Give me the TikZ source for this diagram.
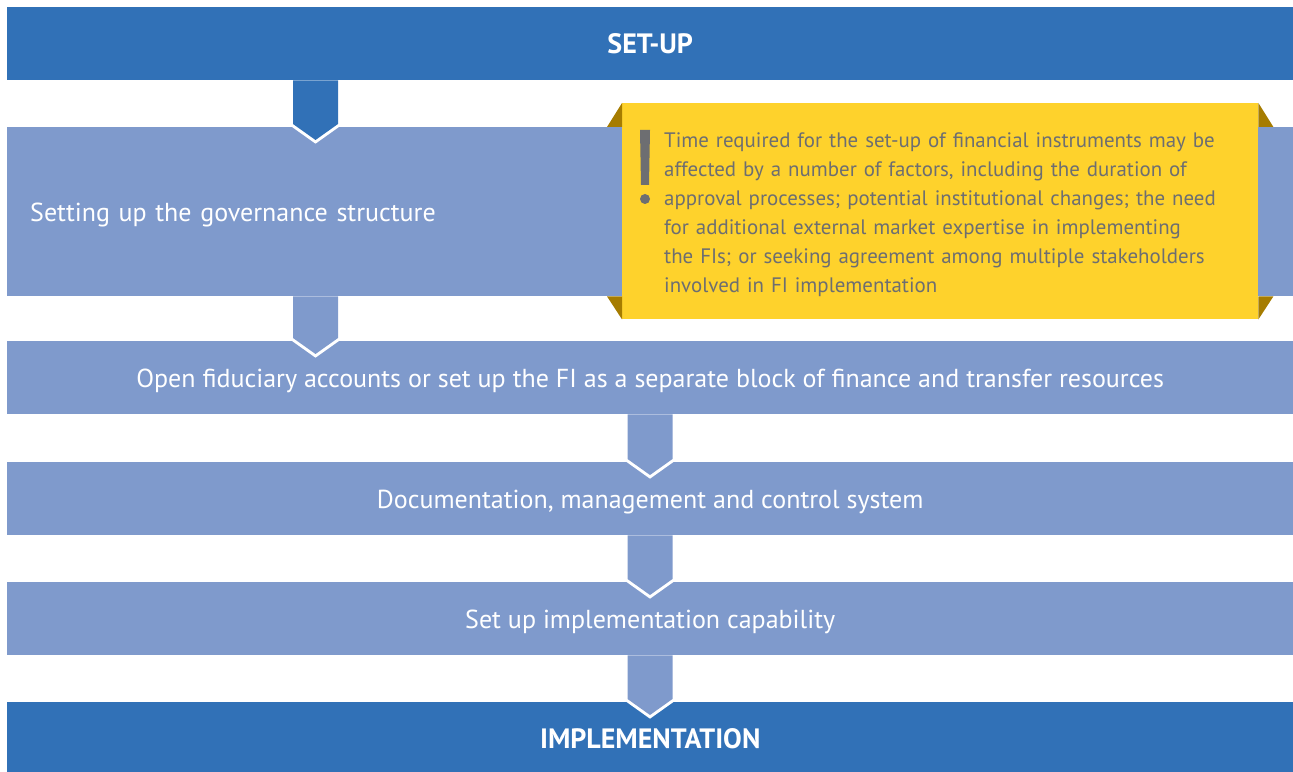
\documentclass[tikz,border=0pt]{standalone}
\usepackage{fontspec}
\setmainfont{PT Sans}
\usetikzlibrary{calc}

\definecolor{phaseblue}{RGB}{49,113,183}
\definecolor{stepblue}{RGB}{127,154,204}
\definecolor{noteyellow}{RGB}{254,210,44}
\definecolor{notegold}{RGB}{166,124,0}
\definecolor{notegray}{RGB}{109,110,113}

\tikzset{
  stage/.style={rectangle, fill=stepblue, text=white, inner sep=0pt, anchor=north west,
    minimum width=1286pt, minimum height=73pt, text height=19pt, text depth=0pt,
    font=\fontsize{26}{30}\selectfont},
  phase/.style={stage, fill=phaseblue, font=\bfseries\fontsize{28}{32}\selectfont},
}

\begin{document}
\begin{tikzpicture}[x=1pt,y=1pt]
\useasboundingbox (0,0) rectangle (1293,771);

% stages
\node[phase] (setup) at (7,764) {SET-UP};
\node[stage, minimum height=169pt, text width=1240pt, inner xsep=23pt, align=left] (gov) at (7,644) {Setting up the governance structure};
\node[stage] (open) at (7,430) {Open fiduciary accounts or set up the FI as a separate block of finance and transfer resources};
\node[stage] (doc) at (7,309) {Documentation, management and control system};
\node[stage] (cap) at (7,189) {Set up implementation capability};
\node[phase] (impl) at (7,69) {IMPLEMENTATION};

% arrows between the stages
\foreach \from/\to/\col/\ax in {setup/gov/phaseblue/315.5, gov/open/stepblue/315.5, open/doc/stepblue/650, doc/cap/stepblue/650, cap/impl/stepblue/650}{
  \coordinate (al) at (\ax-22.5,0);
  \coordinate (am) at (\ax,0);
  \coordinate (ar) at (\ax+22.5,0);
  \draw[white, line width=6pt, line join=miter] ($(al |- \to.north)+(0,3)$) -- ($(am |- \to.north)-(0,13)$) -- ($(ar |- \to.north)+(0,3)$);
  \fill[\col] (al |- \from.south) -- ($(al |- \to.north)+(0,3)$) -- ($(am |- \to.north)-(0,13)$) -- ($(ar |- \to.north)+(0,3)$) -- (ar |- \from.south) -- cycle;
}

% note
\node[rectangle, fill=noteyellow, anchor=north west, inner sep=0pt, minimum width=636pt, minimum height=216pt] (note) at (622,668) {};
\node[anchor=north west, inner sep=0pt, text width=560pt, align=left, text=notegray,
  font=\fontsize{20.9}{29}\selectfont] (notetext) at ($(note.north west)+(42,-30)$) {Time required for the set-up of financial instruments may be\\
affected by a number of factors, including the duration of\\
approval processes; potential institutional changes; the need\\
for additional external market expertise in implementing\\
the FIs; or seeking agreement among multiple stakeholders\\
involved in FI implementation};
\fill[notegold] (note.north west) -- ($(note.north west |- gov.north)+(-15,0)$) -- (note.north west |- gov.north) -- cycle;
\fill[notegold] (note.north east) -- ($(note.north east |- gov.north)+(15,0)$) -- (note.north east |- gov.north) -- cycle;
\fill[notegold] (note.south west) -- ($(note.south west |- gov.south)+(-15,0)$) -- (note.south west |- gov.south) -- cycle;
\fill[notegold] (note.south east) -- ($(note.south east |- gov.south)+(15,0)$) -- (note.south east |- gov.south) -- cycle;
\fill[notegray] (640,641) -- (650,641) -- (649,586) -- (641,586) -- cycle;
\fill[notegray] (645,572) circle (5);
\end{tikzpicture}
\end{document}
